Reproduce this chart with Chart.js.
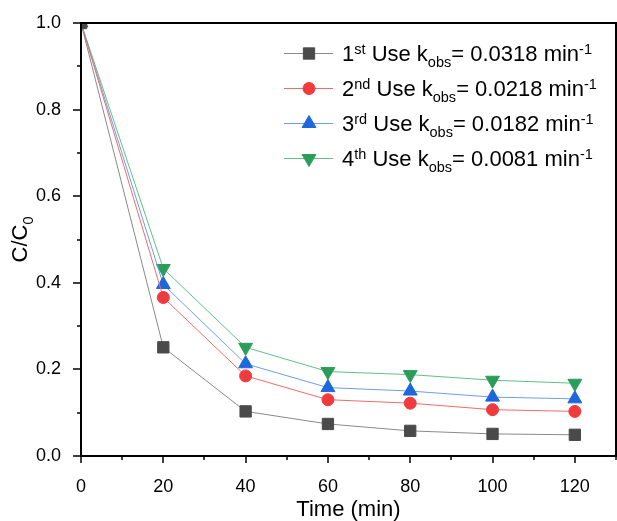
<!DOCTYPE html>
<html>
<head>
<meta charset="utf-8">
<script src="https://cdn.jsdelivr.net/npm/chart.js@4.4.0/dist/chart.umd.min.js"></script>
<style>
  html, body { margin: 0; padding: 0; background: #fff; overflow: hidden; }
  #wrap { width: 617px; height: 521px; position: relative; }
  canvas { display: block; }
</style>
</head>
<body>
<div id="wrap"><canvas id="chart"></canvas></div>
<script>
const times = [0, 20, 40, 60, 80, 100, 120];
const use1 = [1.0, 0.251, 0.103, 0.074, 0.058, 0.051, 0.049];
const use2 = [1.0, 0.366, 0.185, 0.130, 0.122, 0.107, 0.103];
const use3 = [1.0, 0.396, 0.213, 0.158, 0.150, 0.136, 0.132];
const use4 = [1.0, 0.433, 0.251, 0.195, 0.188, 0.175, 0.168];

// legend text pieces: [text, 'sup' | 'sub' | '']
const legendLabels = [
  [['1', ''], ['st', 'sup'], [' Use k', ''], ['obs', 'sub'], ['= 0.0318 min', ''], ['-1', 'sup']],
  [['2', ''], ['nd', 'sup'], [' Use k', ''], ['obs', 'sub'], ['= 0.0218 min', ''], ['-1', 'sup']],
  [['3', ''], ['rd', 'sup'], [' Use k', ''], ['obs', 'sub'], ['= 0.0182 min', ''], ['-1', 'sup']],
  [['4', ''], ['th', 'sup'], [' Use k', ''], ['obs', 'sub'], ['= 0.0081 min', ''], ['-1', 'sup']],
];

const FONT = 'Arial, "Liberation Sans", sans-serif';

const series = [
  { data: use1, line: '#8a8a8a', mark: '#4a4a4a', style: 'rect', radius: 8, rotation: 0 },
  { data: use2, line: '#f26b6b', mark: '#ef3b3e', style: 'circle', radius: 6, rotation: 0 },
  { data: use3, line: '#6d9fe6', mark: '#1c68dc', style: 'triangle', radius: 8, rotation: 0 },
  { data: use4, line: '#5fc084', mark: '#2a9d5b', style: 'triangle', radius: 8, rotation: 180 },
];

const datasets = series.map((s) => ({
  data: times.map((t, i) => ({ x: t, y: s.data[i] })),
  borderColor: s.line,
  borderWidth: 1,
  pointStyle: s.style,
  pointRadius: s.radius,
  pointRotation: s.rotation,
  pointBackgroundColor: s.mark,
  pointBorderColor: s.mark,
  pointBorderWidth: 1,
  tension: 0,
}));

const drawRich = (ctx, parts, x, y, size) => {
  parts.forEach(([text, kind]) => {
    let fs = size;
    let dy = 0;
    if (kind === 'sup') { fs = size * 0.66; dy = -size * 0.34; }
    if (kind === 'sub') { fs = size * 0.66; dy = size * 0.26; }
    ctx.font = `${fs}px ${FONT}`;
    ctx.fillText(text, x, y + dy);
    x += ctx.measureText(text).width;
  });
};

const framePlugin = {
  id: 'frame',
  afterDraw: (chart) => {
    const { ctx, chartArea: a, scales } = chart;
    ctx.save();
    ctx.strokeStyle = '#000';
    ctx.lineWidth = 2;
    ctx.strokeRect(a.left, a.top, a.right - a.left, a.bottom - a.top);
    ctx.lineWidth = 1.5;
    // x ticks
    for (let v = 0; v <= 130; v += 10) {
      const px = Math.round(scales.x.getPixelForValue(v));
      const len = v % 20 === 0 ? 7 : 4;
      ctx.beginPath();
      ctx.moveTo(px, a.bottom);
      ctx.lineTo(px, a.bottom + len);
      ctx.stroke();
    }
    // y ticks
    for (let i = 0; i <= 10; i++) {
      const py = Math.round(scales.y.getPixelForValue(i / 10));
      const len = i % 2 === 0 ? 8 : 4;
      ctx.beginPath();
      ctx.moveTo(a.left, py);
      ctx.lineTo(a.left - len, py);
      ctx.stroke();
    }
    // axis titles
    ctx.fillStyle = '#000';
    ctx.textBaseline = 'alphabetic';
    ctx.font = `22px ${FONT}`;
    ctx.textAlign = 'center';
    ctx.fillText('Time (min)', (a.left + a.right) / 2, 516);
    ctx.save();
    ctx.translate(27, (a.top + a.bottom) / 2);
    ctx.rotate(-Math.PI / 2);
    ctx.textAlign = 'left';
    ctx.font = `22px ${FONT}`;
    const w1 = ctx.measureText('C/C').width;
    ctx.font = `14.5px ${FONT}`;
    const w2 = ctx.measureText('0').width;
    drawRich(ctx, [['C/C', ''], ['0', 'sub']], -(w1 + w2) / 2, 0, 22);
    ctx.restore();
    // legend
    ctx.textAlign = 'left';
    chart.data.datasets.forEach((ds, i) => {
      const y = a.top + 30.5 + i * 35;
      ctx.strokeStyle = ds.borderColor;
      ctx.lineWidth = 1;
      ctx.beginPath();
      ctx.moveTo(284, y);
      ctx.lineTo(333, y);
      ctx.stroke();
      ctx.fillStyle = ds.pointBackgroundColor;
      ctx.strokeStyle = ds.pointBorderColor;
      Chart.helpers.drawPoint(ctx, {
        pointStyle: ds.pointStyle,
        radius: ds.pointRadius,
        rotation: ds.pointRotation,
        borderWidth: 1,
      }, 309, y);
      ctx.fillStyle = '#000';
      drawRich(ctx, legendLabels[i], 342, y + 7.5, 22);
    });
    ctx.restore();
  },
};

new Chart(document.getElementById('chart'), {
  type: 'line',
  data: { datasets },
  plugins: [framePlugin],
  options: {
    responsive: true,
    maintainAspectRatio: false,
    animation: false,
    layout: { autoPadding: false, padding: { top: 23, right: 1, left: 0, bottom: 0 } },
    plugins: { legend: { display: false }, tooltip: { enabled: false } },
    scales: {
      x: {
        type: 'linear',
        min: 0,
        max: 130,
        grid: { display: false },
        border: { display: false },
        afterFit: (scale) => {
          scale.height = 65;
          scale.paddingLeft = 0;
          scale.paddingRight = 0;
        },
        ticks: {
          stepSize: 20,
          includeBounds: false,
          padding: 12,
          color: '#000',
          font: { size: 18, family: FONT },
          maxRotation: 0,
        },
      },
      y: {
        min: 0,
        max: 1.0,
        grid: { display: false },
        border: { display: false },
        afterFit: (scale) => { scale.width = 81; },
        ticks: {
          stepSize: 0.2,
          padding: 12,
          color: '#000',
          font: { size: 18, family: FONT },
          callback: (v) => v.toFixed(1),
        },
      },
    },
  },
});
</script>
</body>
</html>
